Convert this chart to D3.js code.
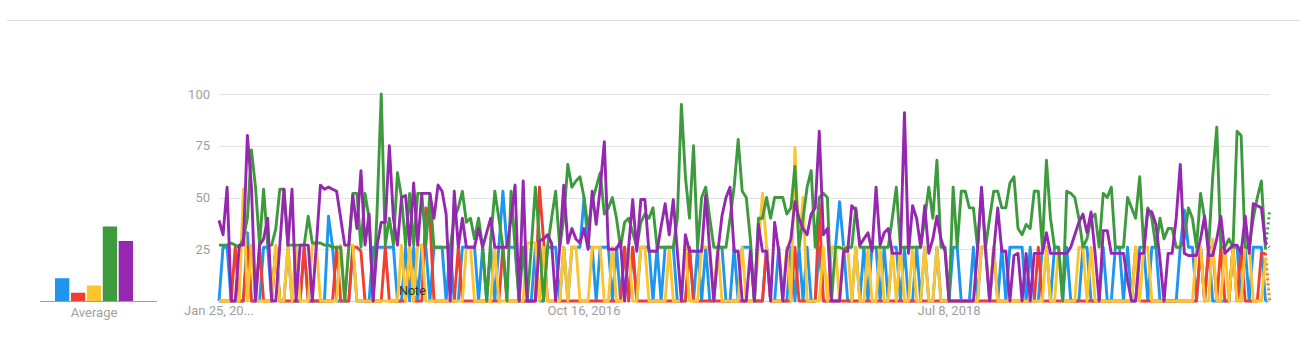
<!DOCTYPE html>
<html>
<head>
<meta charset="utf-8">
<script src="https://cdn.jsdelivr.net/npm/d3@7"></script>
<style>
  body { margin: 0; background: #fff; }
  svg { display: block; font-family: Roboto, "Noto Sans", sans-serif; }
</style>
</head>
<body>
<svg id="chart"></svg>
<script>
// weekly data, Jan 25 2015 onward
const startDate = new Date(2015, 0, 25);
const seriesNames = ["blue", "red", "yellow", "green", "purple"];
const seriesColors = ["#1e96f0", "#f23d2f", "#fdc52d", "#3d9b3d", "#9627b0"];
const averages = [11, 4, 7.5, 36, 29];
const yTicks = [25, 50, 75, 100];
const xTickDates = [new Date(2015, 0, 25), new Date(2016, 9, 16), new Date(2018, 6, 8)];
const xTickLabels = ["Jan 25, 20...", "Oct 16, 2016", "Jul 8, 2018"];

const blue = [
  0,26,26,0,0,0,0,33,0,0,0,26,26,0,26,0,0,26,0,0,0,26,0,0,0,0,
  0,41,26,0,0,0,0,26,0,0,0,0,26,26,26,26,26,26,0,0,26,0,26,0,26,26,
  0,26,26,26,0,26,0,0,26,26,26,26,0,26,0,26,0,26,53,26,26,26,0,0,0,0,
  26,0,0,26,26,26,0,26,0,26,26,26,50,26,26,0,26,26,26,0,26,0,26,0,26,0,
  26,26,26,0,26,0,26,26,26,0,0,0,26,0,26,0,26,0,0,26,26,0,0,26,0,26,
  26,26,0,0,0,26,0,0,26,0,0,26,0,26,0,26,0,0,26,0,0,26,26,48,26,0,
  0,26,0,26,0,26,26,0,26,0,26,26,0,26,0,0,26,0,26,0,0,26,0,0,0,26,
  26,0,0,0,26,0,26,26,0,26,0,26,0,26,26,26,26,0,26,0,0,26,26,0,26,26,
  0,26,0,0,0,26,26,0,0,0,26,0,0,26,26,0,26,0,0,26,26,0,26,26,0,0,
  0,0,0,26,44,26,26,0,26,0,26,0,0,0,0,0,26,26,0,26,0,26,26,26,0,0
];
const red = [
  0,0,0,0,26,0,0,26,0,0,26,0,0,0,26,0,0,0,0,0,0,26,0,0,0,0,
  0,0,0,26,0,0,0,26,26,24,0,0,0,0,0,26,0,0,0,0,0,26,0,0,0,45,
  40,0,0,0,0,0,0,26,0,0,0,0,0,0,0,0,0,0,26,0,0,0,0,0,0,0,
  0,55,30,0,0,0,0,0,0,0,0,0,0,0,0,0,0,0,0,0,0,0,26,0,26,0,
  0,0,0,0,0,0,0,0,0,0,0,0,26,0,0,0,0,0,0,0,0,0,0,0,0,0,
  0,0,0,0,0,26,0,0,0,0,0,0,26,0,0,0,0,0,47,0,0,0,0,0,0,0,
  0,0,0,0,0,0,0,0,0,0,0,0,0,0,0,0,0,0,0,0,0,0,0,0,0,0,
  0,0,0,0,0,0,0,0,0,0,0,0,0,0,0,0,0,0,0,0,26,0,0,0,0,0,
  0,0,0,0,0,0,0,0,0,0,0,0,0,0,0,0,0,0,26,0,0,0,0,0,0,0,
  0,0,0,0,0,0,0,0,26,0,26,26,0,26,0,0,26,0,26,0,0,0,0,23,23,0
];
const yellow = [
  0,0,0,0,0,0,54,0,27,0,0,0,0,0,27,0,0,27,0,27,0,0,0,27,27,0,
  0,0,0,0,27,0,27,27,0,0,0,0,0,0,0,0,0,0,0,27,0,27,0,27,27,0,
  0,0,0,0,0,0,0,0,0,26,26,0,0,0,0,0,26,0,0,0,0,0,0,0,28,28,
  28,0,26,0,0,0,0,26,0,26,26,0,0,0,26,26,26,0,0,26,0,0,0,26,0,0,
  26,26,0,0,0,0,0,26,0,0,0,26,0,0,0,26,26,26,0,26,0,0,0,0,0,26,
  0,0,0,26,52,26,0,0,0,0,26,0,74,26,50,0,0,0,0,26,0,26,26,0,26,26,
  0,26,0,0,26,0,0,26,0,0,26,0,26,0,0,26,0,0,26,0,0,26,0,0,0,0,
  0,0,0,0,0,0,26,26,0,26,0,0,0,0,0,0,0,0,0,0,0,0,26,0,0,26,
  0,0,0,0,26,26,0,26,0,0,0,0,0,0,0,0,0,0,26,0,26,26,0,0,0,0,
  0,0,0,0,0,0,0,26,26,0,0,30,0,0,26,0,26,0,0,26,26,0,0,0,21,0
];
const green = [
  27,27,27,28,27,26,30,40,73,55,27,54,27,27,35,54,54,27,27,27,27,27,41,28,28,28,
  27,27,26,26,26,0,26,52,52,26,52,40,0,45,100,27,40,27,62,50,27,52,27,52,52,27,
  52,26,26,26,26,26,40,45,53,38,40,30,40,26,0,30,53,40,26,0,53,26,0,26,0,26,
  55,30,0,26,40,53,26,40,66,55,58,60,50,35,48,55,62,42,45,50,40,26,38,40,33,26,
  38,42,40,45,26,26,26,26,26,40,95,60,40,75,26,50,55,40,26,26,26,26,40,55,78,53,
  50,30,0,40,40,50,40,50,50,50,42,45,65,26,40,55,63,26,50,52,50,0,26,26,25,26,
  26,45,26,26,26,26,26,26,26,26,40,55,26,26,26,26,26,26,40,55,40,68,26,26,0,55,
  26,53,53,45,45,26,53,26,40,53,53,45,45,57,60,35,32,37,35,53,53,26,68,40,26,26,
  0,53,52,50,40,26,30,40,42,26,52,50,55,26,26,26,50,45,40,60,26,45,40,26,40,30,
  35,35,26,26,30,45,40,26,52,40,26,60,84,26,26,30,26,82,80,26,26,40,50,58,25,43
];
const purple = [
  39,32,55,0,0,27,27,80,55,0,27,30,40,0,0,27,54,27,54,0,27,27,27,0,27,56,
  54,55,54,53,40,27,27,51,35,63,27,42,0,27,38,38,75,40,27,50,51,27,57,27,52,52,
  52,40,56,53,42,0,53,26,40,26,26,26,35,26,33,40,26,26,26,26,40,56,0,58,0,0,
  0,29,30,32,28,0,26,56,28,35,30,28,35,25,53,37,55,77,25,25,25,29,0,26,49,24,
  49,49,24,24,24,36,47,32,49,24,0,32,24,24,24,24,51,24,0,24,41,50,55,24,24,0,
  0,24,0,37,24,24,0,38,24,0,24,30,48,40,35,32,42,45,82,32,35,0,0,0,24,24,
  46,44,27,30,33,24,55,27,33,35,23,23,23,91,23,46,40,26,46,23,30,41,30,24,0,0,
  0,0,0,0,0,24,55,24,0,24,45,24,24,0,22,23,0,23,0,23,23,23,33,23,23,23,
  23,23,26,32,38,42,33,43,23,0,34,34,23,23,23,23,10,0,0,23,23,44,43,37,20,0,
  23,23,40,66,23,22,22,22,30,41,22,22,30,41,23,25,27,27,23,41,23,47,46,45,28,26
];
const seriesValues = [blue, red, yellow, green, purple];

const width = 1300, height = 361;
const svg = d3.select("#chart").attr("width", width).attr("height", height);

const dates = blue.map((d, i) => d3.timeWeek.offset(startDate, i));

const x = d3.scaleTime()
  .domain([dates[0], dates[dates.length - 1]])
  .range([219, 1269.5]);
const y = d3.scaleLinear().domain([0, 100]).range([301, 94]);

// top separator
svg.append("line")
  .attr("x1", 7).attr("x2", width)
  .attr("y1", 20.5).attr("y2", 20.5)
  .attr("stroke", "#e0e0e0");

// grid + y labels
const grid = svg.append("g");
grid.selectAll("line")
  .data(yTicks)
  .join("line")
  .attr("x1", 219).attr("x2", 1270)
  .attr("y1", d => Math.round(y(d)) + 0.5)
  .attr("y2", d => Math.round(y(d)) + 0.5)
  .attr("stroke", "#e3e3e3");
grid.selectAll("text")
  .data(yTicks)
  .join("text")
  .attr("x", 210)
  .attr("y", d => y(d) + 4.5)
  .attr("text-anchor", "end")
  .attr("fill", "#a0a0a0")
  .style("font-size", "13px")
  .text(d => d);

svg.append("line")
  .attr("x1", 219).attr("x2", 1270)
  .attr("y1", 301.5).attr("y2", 301.5)
  .attr("stroke", "#cfcfcf");

// x labels
svg.append("g").selectAll("text")
  .data(xTickDates)
  .join("text")
  .attr("x", d => x(d))
  .attr("y", 315)
  .attr("text-anchor", "middle")
  .attr("fill", "#a0a0a0")
  .style("font-size", "13px")
  .text((d, i) => xTickLabels[i]);

// lines
const line = d3.line()
  .x((d, i) => x(dates[i]))
  .y(d => y(d));
const lastLine = d3.line()
  .x(d => x(dates[d.i]))
  .y(d => y(d.v));

const lines = svg.append("g");
seriesValues.forEach((vals, k) => {
  const n = vals.length;
  lines.append("path")
    .attr("d", line(vals.slice(0, n - 1)))
    .attr("fill", "none")
    .attr("stroke", seriesColors[k])
    .attr("stroke-width", 2.9)
    .attr("stroke-linejoin", "round");
  lines.append("path")
    .attr("d", lastLine([{i: n - 2, v: vals[n - 2]}, {i: n - 1, v: vals[n - 1]}]))
    .attr("fill", "none")
    .attr("stroke", seriesColors[k])
    .attr("stroke-width", 2.9)
    .attr("stroke-dasharray", "2,3");
});

// note marker
svg.append("line")
  .attr("x1", 415.5).attr("x2", 415.5)
  .attr("y1", 296).attr("y2", 301)
  .attr("stroke", "#999");
svg.append("text")
  .attr("x", 399).attr("y", 295)
  .attr("fill", "#333")
  .style("font-size", "12.5px")
  .text("Note");

// average bars
const xb = d3.scaleBand()
  .domain(seriesNames)
  .range([55, 133])
  .paddingInner(0.1);
svg.append("g").selectAll("rect")
  .data(averages)
  .join("rect")
  .attr("x", (d, i) => xb(seriesNames[i]))
  .attr("width", xb.bandwidth())
  .attr("y", d => y(d))
  .attr("height", d => 301 - y(d))
  .attr("fill", (d, i) => seriesColors[i]);
svg.append("line")
  .attr("x1", 40).attr("x2", 157)
  .attr("y1", 301.5).attr("y2", 301.5)
  .attr("stroke", "#9e9e9e");
svg.append("text")
  .attr("x", 94).attr("y", 317)
  .attr("text-anchor", "middle")
  .attr("fill", "#a0a0a0")
  .style("font-size", "13px")
  .text("Average");
</script>
</body>
</html>
